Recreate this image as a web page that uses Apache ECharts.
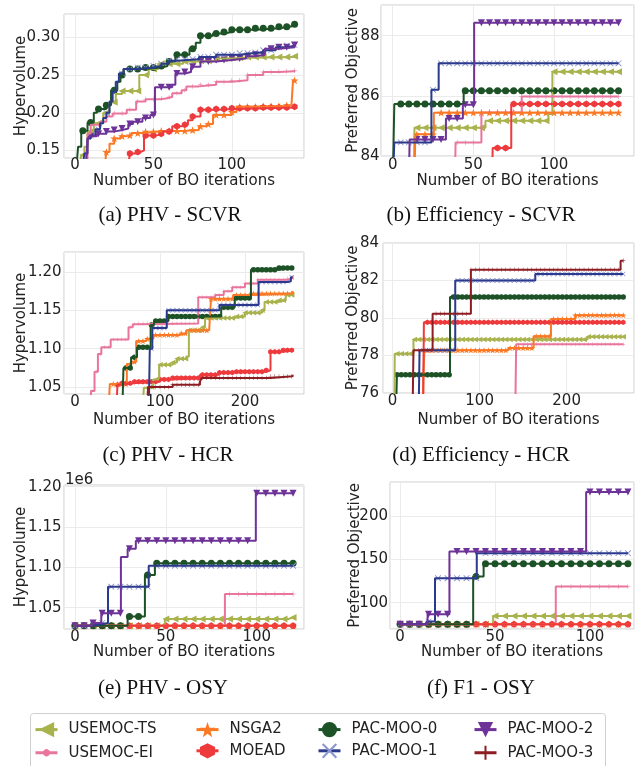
<!DOCTYPE html>
<html>
<head>
<meta charset="utf-8">
<script src="https://cdn.jsdelivr.net/npm/echarts@6.0.0/dist/echarts.min.js"></script>
<style>
  html, body { margin: 0; padding: 0; background: #fff; }
  #chart { width: 639px; height: 766px; }
</style>
</head>
<body>
<div id="chart"></div>
<script>
  // legend order of the methods
  const methods = ["USEMOC-TS", "USEMOC-EI", "NSGA2", "MOEAD", "PAC-MOO-0", "PAC-MOO-1", "PAC-MOO-2", "PAC-MOO-3"];

  // every array is [iteration, best value so far], the value holds until the next pair

  // (a) PHV - SCVR
  const phvScvrTS = [[3, 0.13], [4, 0.144], [6, 0.155], [8, 0.175], [12, 0.186], [18, 0.2], [22, 0.214], [26, 0.225], [30, 0.229], [41, 0.25], [47, 0.258], [53, 0.265], [69, 0.268], [79, 0.269], [90, 0.272], [100, 0.273], [110, 0.274], [140, 0.275]];
  const phvScvrEI = [[6, 0.13], [8, 0.172], [10, 0.184], [16, 0.188], [20, 0.195], [24, 0.199], [33, 0.204], [39, 0.215], [45, 0.218], [54, 0.219], [58, 0.221], [62, 0.226], [68, 0.23], [71, 0.235], [79, 0.237], [90, 0.241], [100, 0.243], [110, 0.25], [120, 0.254], [130, 0.255], [140, 0.256]];
  const phvScvrNSGA2 = [[19, 0.13], [20, 0.148], [22, 0.159], [25, 0.166], [29, 0.169], [33, 0.17], [36, 0.173], [43, 0.175], [54, 0.176], [71, 0.177], [79, 0.182], [84, 0.185], [88, 0.197], [100, 0.201], [103, 0.208], [120, 0.209], [135, 0.21], [138, 0.211], [139, 0.243], [140, 0.243]];
  const phvScvrMOEAD = [[34, 0.13], [35, 0.146], [38, 0.148], [42, 0.15], [44, 0.17], [49, 0.17], [52, 0.172], [56, 0.175], [62, 0.182], [68, 0.184], [72, 0.19], [75, 0.195], [80, 0.204], [90, 0.205], [100, 0.206], [120, 0.207], [140, 0.208]];
  const phvScvrPAC0 = [[1, 0.13], [2, 0.155], [4, 0.176], [8, 0.187], [12, 0.2], [14, 0.205], [20, 0.21], [23, 0.23], [27, 0.241], [29, 0.25], [31, 0.258], [45, 0.26], [55, 0.262], [59, 0.268], [64, 0.277], [73, 0.285], [77, 0.293], [80, 0.302], [88, 0.305], [95, 0.307], [100, 0.31], [115, 0.312], [130, 0.314], [137, 0.316], [140, 0.3175]];
  const phvScvrPAC1 = [[5, 0.13], [6, 0.146], [8, 0.166], [10, 0.17], [13, 0.178], [16, 0.186], [18, 0.193], [20, 0.2], [22, 0.215], [24, 0.228], [26, 0.241], [28, 0.252], [31, 0.258], [40, 0.26], [50, 0.262], [55, 0.265], [60, 0.269], [65, 0.271], [79, 0.274], [90, 0.277], [105, 0.279], [113, 0.28], [120, 0.283], [128, 0.287], [135, 0.289], [140, 0.29]];
  const phvScvrPAC2 = [[7, 0.13], [8, 0.165], [9, 0.169], [14, 0.172], [20, 0.175], [25, 0.177], [30, 0.179], [34, 0.185], [37, 0.188], [43, 0.193], [48, 0.197], [51, 0.234], [62, 0.237], [64, 0.252], [70, 0.254], [74, 0.261], [80, 0.268], [90, 0.27], [100, 0.272], [109, 0.275], [115, 0.277], [121, 0.285], [130, 0.287], [140, 0.29]];

  // (b) Efficiency - SCVR
  const effScvrTS = [[13, 83], [13.5, 84.94], [57.5, 85.17], [96.5, 85.4], [99, 86.8], [140, 86.8]];
  const effScvrEI = [[38.5, 83], [39, 84.45], [55, 85.45], [80, 85.98], [140, 85.98]];
  const effScvrNSGA2 = [[13.5, 83], [14, 84.72], [25.5, 85.44], [140, 85.44]];
  const effScvrMOEAD = [[61.5, 83], [62, 84.27], [73.5, 85.73], [140, 85.73]];
  const effScvrPAC0 = [[0, 83], [1, 85.73], [44, 86.17], [140, 86.17]];
  const effScvrPAC1 = [[0, 83], [1, 84.45], [24, 86.2], [28.5, 87.08], [140, 87.08]];
  const effScvrPAC2 = [[10, 83], [10.5, 84.55], [33, 85.25], [43.5, 85.7], [50.5, 88.43], [140, 88.43]];

  // (c) PHV - HCR
  const phvHcrTS = [[80, 1.03], [81, 1.049], [88, 1.05], [92, 1.06], [99, 1.079], [115, 1.082], [120, 1.087], [131, 1.09], [134, 1.124], [150, 1.128], [153, 1.14], [186, 1.142], [200, 1.147], [220, 1.15], [223, 1.161], [240, 1.163], [248, 1.17], [256, 1.175]];
  const phvHcrEI = [[18, 1.03], [19, 1.045], [23, 1.07], [27, 1.093], [31, 1.102], [42, 1.112], [63, 1.128], [68, 1.132], [75, 1.133], [145, 1.167], [165, 1.17], [175, 1.175], [185, 1.18], [200, 1.185], [215, 1.19], [250, 1.192], [256, 1.195]];
  const phvHcrNSGA2 = [[40, 1.03], [41, 1.054], [61, 1.08], [66, 1.083], [72, 1.11], [84, 1.113], [92, 1.118], [123, 1.12], [131, 1.124], [158, 1.127], [160, 1.165], [186, 1.17], [209, 1.172], [256, 1.175]];
  const phvHcrMOEAD = [[49, 1.03], [50, 1.053], [52, 1.055], [66, 1.057], [100, 1.06], [115, 1.062], [147, 1.066], [170, 1.069], [186, 1.07], [225, 1.072], [230, 1.096], [245, 1.098], [256, 1.1]];
  const phvHcrPAC0 = [[56, 1.03], [57, 1.075], [66, 1.089], [73, 1.102], [89, 1.131], [93, 1.136], [110, 1.142], [172, 1.154], [188, 1.166], [207, 1.203], [240, 1.205], [256, 1.206]];
  const phvHcrPAC1 = [[87, 1.03], [88, 1.1], [91, 1.127], [108, 1.15], [170, 1.157], [216, 1.187], [250, 1.188], [254, 1.193], [256, 1.193]];
  const phvHcrPAC3 = [[85, 1.03], [86, 1.05], [115, 1.053], [147, 1.057], [149, 1.062], [205, 1.062], [230, 1.064], [256, 1.066]];

  // (d) Efficiency - HCR
  const effHcrTS = [[2, 75], [2.5, 78.1], [24, 78.85], [224, 79.0], [265, 79.0]];
  const effHcrEI = [[141, 75], [142, 78.6], [265, 78.6]];
  const effHcrNSGA2 = [[35, 75], [35.5, 77.0], [36.5, 78.28], [133, 78.4], [162, 79.03], [182, 79.95], [210, 80.15], [265, 80.15]];
  const effHcrMOEAD = [[35, 75], [36, 79.77], [265, 79.77]];
  const effHcrPAC0 = [[4, 75], [5, 76.97], [66, 81.12], [265, 81.12]];
  const effHcrPAC1 = [[30, 75], [31, 78.28], [72, 82.0], [164, 82.35], [265, 82.35]];
  const effHcrPAC3 = [[23, 75], [24, 78.28], [46, 80.23], [90, 82.58], [262, 83.05], [265, 83.05]];

  // (e) PHV - OSY (x 1e6)
  const phvOsyTS = [[0, 1.0275], [49.5, 1.036], [117.5, 1.038], [120, 1.038]];
  const phvOsyEI = [[0, 1.0275], [82.5, 1.067], [120, 1.067]];
  const phvOsyNSGA2 = [[0, 1.0275], [120, 1.0275]];
  const phvOsyMOEAD = [[0, 1.0275], [120, 1.0275]];
  const phvOsyPAC0 = [[0, 1.0275], [29, 1.039], [38.5, 1.0905], [44, 1.105], [120, 1.105]];
  const phvOsyPAC1 = [[0, 1.0275], [8, 1.029], [13.5, 1.031], [18.2, 1.076], [40.6, 1.102], [120, 1.102]];
  const phvOsyPAC2 = [[0, 1.0275], [9.5, 1.031], [14.5, 1.043], [25.3, 1.113], [29, 1.123], [33.5, 1.133], [99.5, 1.192], [120, 1.192]];

  // (f) F1 - OSY
  const f1OsyTS = [[0, 75], [49, 84.5], [120, 84.5]];
  const f1OsyEI = [[0, 75], [82, 118.6], [120, 118.6]];
  const f1OsyNSGA2 = [[0, 75], [120, 75]];
  const f1OsyMOEAD = [[0, 75], [120, 75]];
  const f1OsyPAC0 = [[0, 75], [38.5, 130.2], [44, 145], [120, 145]];
  const f1OsyPAC1 = [[0, 75], [14, 78], [18.4, 128.3], [40.4, 157.4], [120, 157.4]];
  const f1OsyPAC2 = [[0, 75], [14.5, 86.4], [26, 159.3], [98, 228.3], [120, 228.3]];

  // tick labels
  const iterTicks140 = [0, 50, 100];
  const iterTicks250 = [0, 100, 200];
  const iterTicks120 = [0, 50, 100];
  const phvScvrTicks = [0.15, 0.20, 0.25, 0.30];
  const effScvrTicks = [84, 86, 88];
  const phvHcrTicks = [1.05, 1.10, 1.15, 1.20];
  const effHcrTicks = [76, 78, 80, 82, 84];
  const phvOsyTicks = [1.05, 1.10, 1.15, 1.20];
  const f1OsyTicks = [100, 150, 200];

  // styles of the methods (same order as methods)
  const styles = [
    { color: "#a9b34e", mark: "#a9b34e", symbol: "path://M0,5 L10,0 L10,10 Z", k: 1 },
    { color: "#e8759c", mark: "#e8759c", symbol: "path://M-1,-10 L1,-10 L1,-1 L10,-1 L10,1 L1,1 L1,10 L-1,10 L-1,1 L-10,1 L-10,-1 L-1,-1 Z", k: 0.7 },
    { color: "#fb7824", mark: "#fb7824", symbol: "path://M0,-10 L2.35,-3.24 L9.51,-3.09 L3.8,1.24 L5.88,8.09 L0,4 L-5.88,8.09 L-3.8,1.24 L-9.51,-3.09 L-2.35,-3.24 Z", k: 1.15 },
    { color: "#ee3a3d", mark: "#ee3a3d", symbol: "path://M0,-10 L8.66,-5 L8.66,5 L0,10 L-8.66,5 L-8.66,-5 Z", k: 1 },
    { color: "#1d5227", mark: "#1d5227", symbol: "circle", k: 1 },
    { color: "#2b3a8c", mark: "#8d97cf", symbol: "path://M-10,-8 L-8,-10 L0,-2 L8,-10 L10,-8 L2,0 L10,8 L8,10 L0,2 L-8,10 L-10,8 L-2,0 Z", k: 0.9 },
    { color: "#6d3398", mark: "#6d3398", symbol: "path://M0,0 L10,0 L5,10 Z", k: 1 },
    { color: "#8c1d22", mark: "#8c1d22", symbol: "path://M-1,-10 L1,-10 L1,-1 L10,-1 L10,1 L1,1 L1,10 L-1,10 L-1,1 L-10,1 L-10,-1 L-1,-1 Z", k: 0.8 },
  ];
  // legend handles that need a small marker on the line
  const legendIcons = {
    "USEMOC-EI": "path://M0,0 L0,0 Z M22,19 L22,19 Z M0,8 L22,8 L22,11 L0,11 Z M11,5.5 L14,7.2 L14,11.8 L11,13.5 L8,11.8 L8,7.2 Z",
    "PAC-MOO-3": "path://M0,0 L0,0 Z M22,19 L22,19 Z M0,8 L22,8 L22,11 L0,11 Z M10,2.5 L12,2.5 L12,16.5 L10,16.5 Z",
  };

  const panels = [
    { caption: "(a) PHV - SCVR", cx: 170, cy: 215, yName: "Hypervolume", grid: { left: 64, top: 14, width: 240, height: 144 },
      xRange: [-7, 146], xTicks: iterTicks140, yRange: [0.14, 0.331], yTicks: phvScvrTicks, digits: 2,
      yMargin: 4, yGap: 35, xMargin: 0, xGap: 16, mark: 7,
      series: [phvScvrTS, phvScvrEI, phvScvrNSGA2, phvScvrMOEAD, phvScvrPAC0, phvScvrPAC1, phvScvrPAC2, null] },
    { caption: "(b) Efficiency - SCVR", cx: 481, cy: 215, yName: "Preferred Objective", grid: { left: 381, top: 5, width: 253, height: 151 },
      xRange: [-7.25, 149.6], xTicks: iterTicks140, yRange: [84, 89.02], yTicks: effScvrTicks, digits: 0,
      yMargin: 1.5, yGap: 20, xMargin: 1.5, xGap: 18, mark: 7,
      series: [effScvrTS, effScvrEI, effScvrNSGA2, effScvrMOEAD, effScvrPAC0, effScvrPAC1, effScvrPAC2, null] },
    { caption: "(c) PHV - HCR", cx: 168, cy: 455, yName: "Hypervolume", grid: { left: 64, top: 252, width: 240, height: 142 },
      xRange: [-12.9, 269.4], xTicks: iterTicks250, yRange: [1.041, 1.226], yTicks: phvHcrTicks, digits: 2,
      yMargin: 2.5, yGap: 35, xMargin: 1, xGap: 18.5, mark: 5.5,
      series: [phvHcrTS, phvHcrEI, phvHcrNSGA2, phvHcrMOEAD, phvHcrPAC0, phvHcrPAC1, null, phvHcrPAC3] },
    { caption: "(d) Efficiency - HCR", cx: 481, cy: 455, yName: "Preferred Objective", grid: { left: 383, top: 243, width: 251, height: 150 },
      xRange: [-11, 277.4], xTicks: iterTicks250, yRange: [76, 84], yTicks: effHcrTicks, digits: 0,
      yMargin: 4, yGap: 22, xMargin: 1, xGap: 19.5, mark: 5.5,
      series: [effHcrTS, effHcrEI, effHcrNSGA2, effHcrMOEAD, effHcrPAC0, effHcrPAC1, null, effHcrPAC3] },
    { caption: "(e) PHV - OSY", cx: 163, cy: 688, yName: "Hypervolume", grid: { left: 64, top: 485, width: 240, height: 144 },
      xRange: [-6, 126], xTicks: iterTicks120, yRange: [1.0236, 1.2021], yTicks: phvOsyTicks, digits: 2,
      yMargin: 2.5, yGap: 35, xMargin: 0.5, xGap: 16, mark: 7,
      series: [phvOsyTS, phvOsyEI, phvOsyNSGA2, phvOsyMOEAD, phvOsyPAC0, phvOsyPAC1, phvOsyPAC2, null] },
    { caption: "(f) F1 - OSY", cx: 481, cy: 688, yName: "Preferred Objective", grid: { left: 390, top: 482, width: 244, height: 147 },
      xRange: [-5.3, 123.2], xTicks: iterTicks120, yRange: [69.4, 240], yTicks: f1OsyTicks, digits: 0,
      yMargin: 2, yGap: 27.5, xMargin: 0.5, xGap: 16, mark: 7,
      series: [f1OsyTS, f1OsyEI, f1OsyNSGA2, f1OsyMOEAD, f1OsyPAC0, f1OsyPAC1, f1OsyPAC2, null] },
  ];

  // value of a best-so-far step line at iteration x
  function valueAt(steps, x) {
    let v = null;
    for (const [sx, sy] of steps) {
      if (sx <= x) v = sy;
      else break;
    }
    return v;
  }
  // markers every 5 iterations, sitting on the step line
  function markerPoints(steps, every) {
    const pts = [];
    const last = steps[steps.length - 1][0];
    for (let x = 0; x <= last; x += every) {
      const v = valueAt(steps, x);
      if (v !== null) pts.push([x, v]);
    }
    return pts;
  }
  const isTick = (ticks, v) => ticks.some((t) => Math.abs(t - v) < 1e-6);
  // tick step, rounded so float noise does not drop the last tick
  const tickStep = (ticks) => Math.round((ticks[1] - ticks[0]) * 1e6) / 1e6;

  const font = "DejaVu Sans";
  const textColor = "#222";
  const grids = [], xAxes = [], yAxes = [], series = [], graphics = [];

  panels.forEach((p, i) => {
    grids.push(Object.assign({ show: true, borderColor: "#cccccc", borderWidth: 1, containLabel: false, outerBoundsMode: "none" }, p.grid));
    xAxes.push({
      gridIndex: i, type: "value", min: p.xRange[0], max: p.xRange[1],
      minInterval: tickStep(p.xTicks), maxInterval: tickStep(p.xTicks),
      axisLine: { show: false }, axisTick: { show: false },
      splitLine: { show: true, lineStyle: { color: "#ebebeb", width: 1 } },
      axisLabel: { margin: p.xMargin, fontSize: 15, color: textColor, fontFamily: font,
        formatter: (v) => (isTick(p.xTicks, v) ? String(Math.round(v)) : "") },
      name: "Number of BO iterations", nameLocation: "middle", nameGap: p.xGap, nameMoveOverlap: false,
      nameTextStyle: { fontSize: 15, color: textColor, fontFamily: font },
    });
    yAxes.push({
      gridIndex: i, type: "value", min: p.yRange[0], max: p.yRange[1],
      minInterval: tickStep(p.yTicks), maxInterval: tickStep(p.yTicks),
      axisLine: { show: false }, axisTick: { show: false },
      splitLine: { show: true, lineStyle: { color: "#ebebeb", width: 1 } },
      axisLabel: { margin: p.yMargin, fontSize: 15, color: textColor, fontFamily: font,
        formatter: (v) => (isTick(p.yTicks, v) ? v.toFixed(p.digits) : "") },
      name: p.yName, nameLocation: "middle", nameGap: p.yGap, nameMoveOverlap: false,
      nameTextStyle: { fontSize: 15, color: textColor, fontFamily: font },
    });
    p.series.forEach((steps, m) => {
      if (!steps) return;
      const st = styles[m];
      series.push({
        name: methods[m], type: "line", xAxisIndex: i, yAxisIndex: i,
        data: steps, step: "end", showSymbol: false, symbol: st.symbol, symbolKeepAspect: true,
        lineStyle: { color: st.color, width: 2 }, itemStyle: { color: st.mark },
        silent: true, animation: false,
      });
      series.push({
        name: methods[m] + " markers", type: "scatter", xAxisIndex: i, yAxisIndex: i,
        data: markerPoints(steps, 5), symbol: st.symbol, symbolKeepAspect: true,
        symbolSize: p.mark * st.k, itemStyle: { color: st.mark, opacity: 1 },
        silent: true, animation: false,
      });
    });
    graphics.push({
      type: "text", x: p.cx, y: p.cy,
      style: { text: p.caption, font: '21px "Liberation Serif"', fill: "#111", textAlign: "center", textVerticalAlign: "middle" },
    });
  });

  // offset text of panel (e)
  graphics.push({ type: "text", x: 65, y: 480, style: { text: "1e6", font: "15px " + font, fill: textColor, textVerticalAlign: "middle" } });
  // legend frame
  graphics.push({ type: "rect", z: -1, shape: { x: 30.5, y: 713.5, width: 575, height: 60, r: 3 }, style: { fill: "#fff", stroke: "#cfcfcf", lineWidth: 1 } });

  const legendCols = [[0, 1], [2, 3], [4, 5], [6, 7]];
  const legendLeft = [34, 195, 317, 473];
  const legends = legendCols.map((col, k) => ({
    orient: "vertical", left: legendLeft[k], top: 722, padding: 0,
    itemWidth: 22, itemHeight: 19, itemGap: 6, selectedMode: false,
    data: col.map((m) => (legendIcons[methods[m]] ? { name: methods[m], icon: legendIcons[methods[m]] } : methods[m])),
    textStyle: { fontSize: 15, color: textColor, fontFamily: font, padding: [0, 0, 0, 6] },
    lineStyle: { width: 3 },
  }));

  const chart = echarts.init(document.getElementById("chart"), null, { renderer: "canvas" });
  chart.setOption({
    backgroundColor: "#fff",
    animation: false,
    textStyle: { fontFamily: font },
    grid: grids,
    xAxis: xAxes,
    yAxis: yAxes,
    legend: legends,
    graphic: graphics,
    series: series,
  });
</script>
</body>
</html>
